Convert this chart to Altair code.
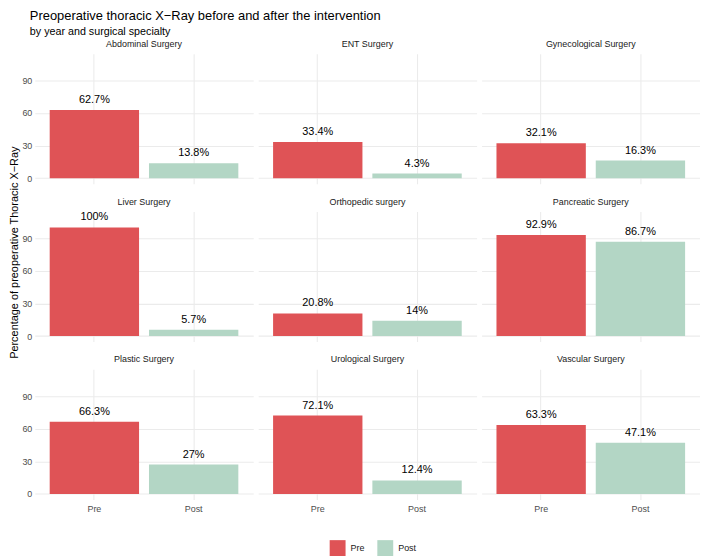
import altair as alt
import pandas as pd

specialties = [
    "Abdominal Surgery", "ENT Surgery", "Gynecological Surgery",
    "Liver Surgery", "Orthopedic surgery", "Pancreatic Surgery",
    "Plastic Surgery", "Urological Surgery", "Vascular Surgery",
]
pre_values = [62.7, 33.4, 32.1, 100, 20.8, 92.9, 66.3, 72.1, 63.3]
post_values = [13.8, 4.3, 16.3, 5.7, 14, 86.7, 27, 12.4, 47.1]
periods = ["Pre", "Post"]
colors = ["#DF5356", "#B3D6C5"]
y_ticks = [0, 15, 30, 45, 60, 75, 90, 105]

rows = []
for s, a, b in zip(specialties, pre_values, post_values):
    rows.append({"Specialty": s, "Period": "Pre", "Value": a, "Label": f"{a:g}%"})
    rows.append({"Specialty": s, "Period": "Post", "Value": b, "Label": f"{b:g}%"})
df = pd.DataFrame(rows)

font = "Liberation Sans"
H = 131
W = 220
grid_c = "#EBEBEB"

x = alt.X(
    "Period:N", sort=periods, title=None,
    scale=alt.Scale(paddingInner=0.1, paddingOuter=0.15),
    axis=alt.Axis(grid=True, gridColor=grid_c, gridWidth=1.07, ticks=False, domain=False,
                  labelAngle=0, labelFontSize=9, labelColor="#4D4D4D", labelPadding=5,
                  labelFont=font, bandPosition=0.5),
)
y = alt.Y(
    "Value:Q", title=None,
    scale=alt.Scale(domain=[-5.1, 114.6], nice=False, zero=False),
    axis=alt.Axis(values=y_ticks,
                  labelExpr="datum.value % 30 === 0 ? datum.label : ''",
                  grid=True, gridColor=grid_c,
                  gridWidth={"condition": {"test": "datum.value % 30 === 0", "value": 1.07}, "value": 0.53},
                  ticks=False, domain=False, labelFontSize=9, labelColor="#4D4D4D",
                  labelPadding=3, labelFont=font, labelOverlap=False),
)

base = alt.Chart(df).encode(x=x)
bars = base.mark_bar().encode(
    y=y, y2=alt.datum(0),
    color=alt.Color("Period:N", sort=periods,
                    scale=alt.Scale(domain=periods, range=colors),
                    legend=alt.Legend(title=None, orient="none", legendX=297, legendY=490,
                                      direction="horizontal",
                                      symbolType="square", symbolSize=256, symbolStrokeWidth=0,
                                      labelFontSize=9, labelFont=font, labelColor="#1A1A1A",
                                      labelOffset=5, columnPadding=12)),
)
texts = base.mark_text(dy=-7, baseline="alphabetic", fontSize=11, color="black", font=font).encode(
    y=alt.Y("Value:Q"), text="Label:N"
)

layer = alt.layer(bars, texts).properties(width=W, height=H)

faceted = layer.facet(
    facet=alt.Facet("Specialty:N", sort=specialties, title=None,
                    header=alt.Header(labelFontSize=9, labelColor="#1A1A1A", labelFont=font,
                                      labelPadding=5)),
    columns=3,
    spacing={"row": 13, "column": 5},
).properties(
    title=alt.TitleParams(
        "Percentage of preoperative Thoracic X\u2212Ray",
        orient="left", anchor="middle", font=font, fontSize=11, fontWeight="normal",
        color="black", offset=2, dx=24,
    ),
)

chart = alt.hconcat(faceted).properties(
    title=alt.TitleParams(
        "Preoperative thoracic X\u2212Ray before and after the intervention",
        subtitle="by year and surgical specialty",
        anchor="start", font=font, fontSize=13, fontWeight="normal", color="black",
        subtitleFont=font, subtitleFontSize=10.8, subtitleColor="black", subtitlePadding=3,
        offset=3, dx=21,
    ),
    padding={"left": 0, "top": 0, "right": 0, "bottom": 0},
).configure_view(stroke=None)

chart.save("out.html", embed_options={"renderer": "svg", "actions": False})
